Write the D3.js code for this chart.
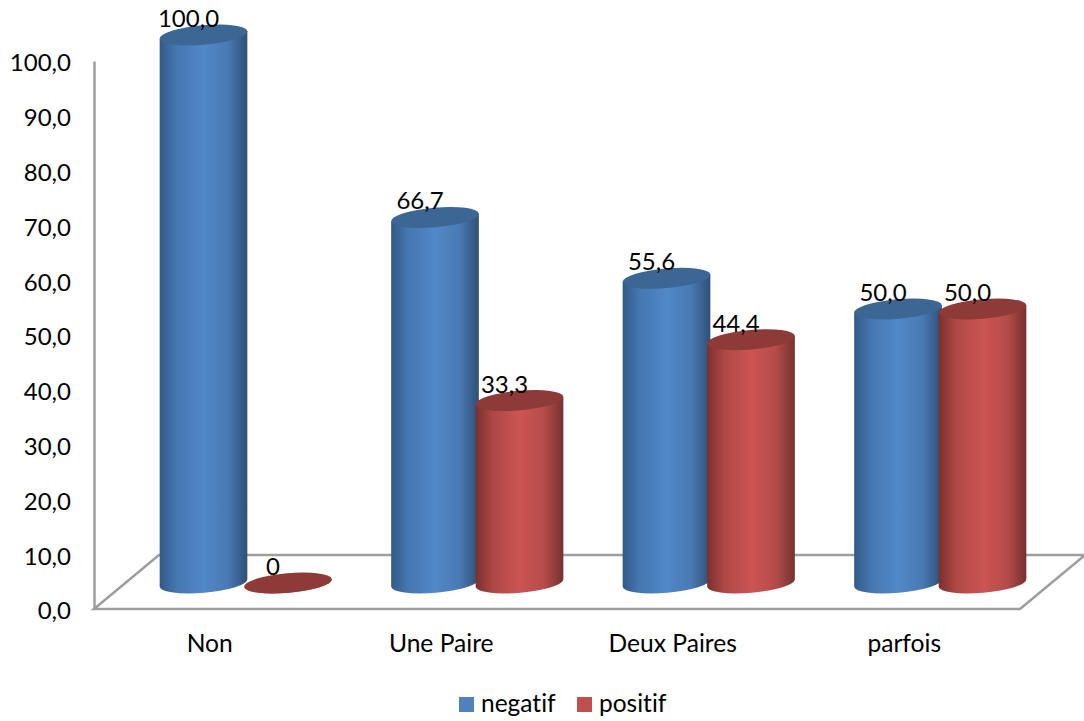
<!DOCTYPE html>
<html>
<head>
<meta charset="utf-8">
<style>
  html, body { margin: 0; padding: 0; background: #fff; }
  text { font-family: Lato, sans-serif; fill: #000; font-variant-ligatures: none; }
</style>
<script src="https://cdn.jsdelivr.net/npm/d3@7"></script>
</head>
<body>
<div class="chart"></div>
<script>
var categories = ['Non', 'Une Paire', 'Deux Paires', 'parfois'];
var seriesNames = ['negatif', 'positif'];
var negatif = [100.0, 66.7, 55.6, 50.0];
var positif = [0, 33.3, 44.4, 50.0];
var yTicks = [0, 10, 20, 30, 40, 50, 60, 70, 80, 90, 100];

var svg = d3.select('.chart').append('svg')
  .attr('width', 1084)
  .attr('height', 721)
  .style('display', 'block');

var x = d3.scaleBand().domain(categories).range([94, 1020]);
var y = d3.scaleLinear().domain([0, 100]).range([609, 61]);
var inner = d3.scaleBand().domain(seriesNames).range([-84.5, 84.5]);

// floor depth of the fake 3d box
var depthX = 65;
var depthY = 54;
var barShiftX = 36;
var barShiftY = 26;

var rx = 44;
var ry = 9.8;
var tilt = -5;

var comma = d3.formatLocale({decimal: ',', thousands: ' ', grouping: [3], currency: ['', '']}).format('.1f');

var palette = {
  negatif: {edgeL: '#325a88', edgeR: '#2f4f76', mid: '#5188c8', top: '#3c6694', legend: '#4f81bd'},
  positif: {edgeL: '#7a302e', edgeR: '#753230', mid: '#cc5552', top: '#8e3a38', legend: '#c0504d'}
};

// defs
var defs = svg.append('defs');
seriesNames.forEach(function (name) {
  var c = palette[name];
  var grad = defs.append('linearGradient').attr('id', 'cyl-' + name);
  grad.append('stop').attr('offset', '0%').attr('stop-color', c.edgeL);
  grad.append('stop').attr('offset', '20%').attr('stop-color', d3.interpolateRgb(c.edgeL, c.mid)(0.65));
  grad.append('stop').attr('offset', '50%').attr('stop-color', c.mid);
  grad.append('stop').attr('offset', '78%').attr('stop-color', d3.interpolateRgb(c.edgeR, c.mid)(0.75));
  grad.append('stop').attr('offset', '100%').attr('stop-color', c.edgeR);
});

// floor
var x0 = x.range()[0];
var x1 = x.range()[1];
var floorY = y(0);
svg.append('path')
  .attr('d', 'M' + x0 + ',' + floorY + 'L' + (x0 + depthX) + ',' + (floorY - depthY) +
    'L' + (x1 + depthX) + ',' + (floorY - depthY) + 'L' + x1 + ',' + floorY + 'Z')
  .attr('fill', 'none')
  .attr('stroke', '#9e9e9e')
  .attr('stroke-width', 2.5);

// axis
var axisLeft = d3.axisLeft(y)
  .tickValues(yTicks)
  .tickSizeInner(0)
  .tickSizeOuter(0)
  .tickPadding(23)
  .tickFormat(comma);
var axisG = svg.append('g')
  .attr('transform', 'translate(' + x0 + ',0)')
  .call(axisLeft);
axisG.select('.domain').attr('stroke', '#9e9e9e').attr('stroke-width', 2.5);
axisG.selectAll('text')
  .attr('font-size', 24)
  .attr('dy', '0.41em')
  .style('font-family', 'Lato, sans-serif');

categories.forEach(function (cat) {
  svg.append('text')
    .attr('x', x(cat) + x.bandwidth() / 2)
    .attr('y', 652)
    .attr('font-size', 24.6)
    .attr('text-anchor', 'middle')
    .text(cat);
});

// cylinders
var rad = tilt * Math.PI / 180;
var dx = rx * Math.cos(rad);
var dy = rx * Math.sin(rad);

var bars = [];
categories.forEach(function (cat, i) {
  bars.push({cat: cat, name: 'negatif', value: negatif[i]});
  bars.push({cat: cat, name: 'positif', value: positif[i]});
});

function centerX(d) {
  return x(d.cat) + x.bandwidth() / 2 + barShiftX + inner(d.name) + inner.bandwidth() / 2;
}
function topY(d) {
  return y(d.value) - barShiftY;
}

var barG = svg.selectAll('.bar')
  .data(bars)
  .enter().append('g')
  .attr('class', 'bar');

barG.append('path')
  .attr('fill', function (d) { return 'url(#cyl-' + d.name + ')'; })
  .attr('d', function (d) {
    var cx = centerX(d);
    var yt = topY(d);
    var yb = y(0) - barShiftY;
    return 'M' + (cx - dx) + ',' + (yt - dy) +
      'L' + (cx - dx) + ',' + (yb - dy) +
      'A' + rx + ',' + ry + ' ' + tilt + ' 0 0 ' + (cx + dx) + ',' + (yb + dy) +
      'L' + (cx + dx) + ',' + (yt + dy) + 'Z';
  });

barG.append('ellipse')
  .attr('rx', rx)
  .attr('ry', ry)
  .attr('fill', function (d) { return palette[d.name].top; })
  .attr('transform', function (d) {
    return 'translate(' + centerX(d) + ',' + topY(d) + ') rotate(' + tilt + ')';
  });

// labels go on top of every cylinder
svg.selectAll('.value')
  .data(bars)
  .enter().append('text')
  .attr('class', 'value')
  .attr('x', function (d) { return centerX(d) - 15; })
  .attr('y', function (d) { return topY(d) - 8; })
  .attr('font-size', 24)
  .attr('text-anchor', 'middle')
  .text(function (d) { return d.value === 0 ? '0' : comma(d.value); });

// legend
var legendX = [459, 577];
seriesNames.forEach(function (name, i) {
  svg.append('rect')
    .attr('x', legendX[i])
    .attr('y', 697)
    .attr('width', 15)
    .attr('height', 15)
    .attr('fill', palette[name].legend);
  svg.append('text')
    .attr('x', legendX[i] + 22)
    .attr('y', 712)
    .attr('font-size', 24.5)
    .text(name);
});
</script>
</body>
</html>
